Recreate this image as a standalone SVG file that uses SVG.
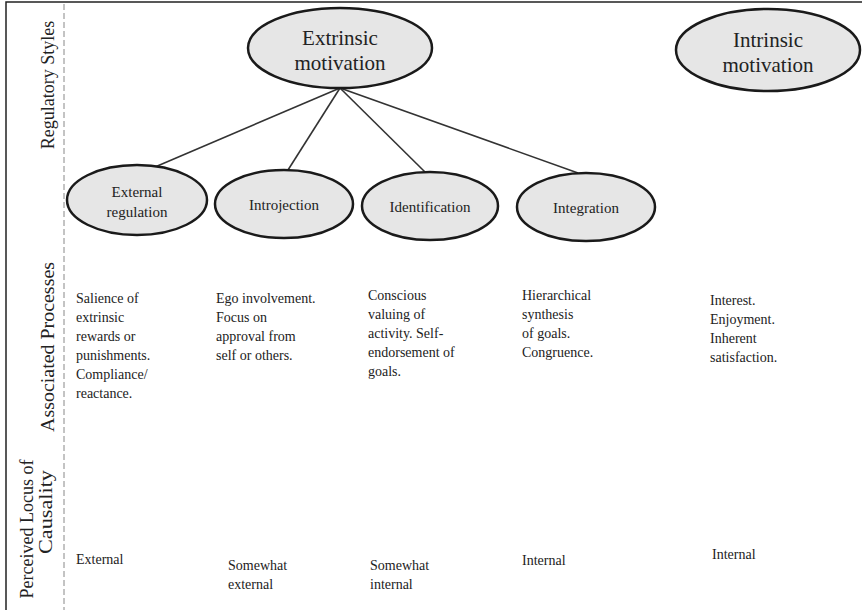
<svg xmlns="http://www.w3.org/2000/svg" width="865" height="610" viewBox="0 0 865 610">
<style>
.frame{stroke:#222;stroke-width:1.5;fill:none}
.dash{stroke:#888;stroke-width:1;stroke-dasharray:6 3;fill:none}
.node ellipse{fill:#e6e6e6;stroke:#1a1a1a;stroke-width:2.5}
.big{font-family:"Liberation Serif",serif;font-size:21px;fill:#222;text-anchor:middle}
.small{font-family:"Liberation Serif",serif;font-size:15px;fill:#222;text-anchor:middle}
.axis{font-family:"Liberation Serif",serif;font-size:18px;fill:#222;text-anchor:middle}
.body{font-family:"Liberation Serif",serif;font-size:14px;fill:#222}
.locus{font-family:"Liberation Serif",serif;font-size:14px;fill:#222}
#connectors line{stroke:#333;stroke-width:1.6}
</style>
<rect width="865" height="610" fill="#fff"/>
<path class="frame" d="M6 610 V2 H862"/>
<line class="dash" x1="64" y1="4" x2="64" y2="610"/>

<g id="axis-labels">
<text class="axis" transform="translate(54,85) rotate(-90)">Regulatory Styles</text>
<text class="axis" transform="translate(54,347) rotate(-90)" textLength="170" lengthAdjust="spacingAndGlyphs">Associated Processes</text>
<text class="axis" transform="translate(33,529) rotate(-90)">Perceived Locus of</text>
<text class="axis" transform="translate(52,512) rotate(-90)" textLength="84" lengthAdjust="spacingAndGlyphs">Causality</text>
</g>

<g id="connectors">
<line x1="340" y1="88" x2="155" y2="167"/>
<line x1="340" y1="88" x2="288" y2="170"/>
<line x1="340" y1="88" x2="425" y2="172"/>
<line x1="340" y1="88" x2="578" y2="173"/>
</g>

<g id="extrinsic" class="node">
<ellipse cx="340" cy="48" rx="92" ry="40"/>
<text class="big" x="340" y="45">Extrinsic</text>
<text class="big" x="340" y="70">motivation</text>
</g>
<g id="intrinsic" class="node">
<ellipse cx="768" cy="50" rx="92" ry="41"/>
<text class="big" x="768" y="47">Intrinsic</text>
<text class="big" x="768" y="72">motivation</text>
</g>
<g id="external-regulation" class="node">
<ellipse cx="137" cy="200" rx="70" ry="35"/>
<text class="small" x="137" y="197">External</text>
<text class="small" x="137" y="217">regulation</text>
</g>
<g id="introjection" class="node">
<ellipse cx="284" cy="204" rx="69" ry="34"/>
<text class="small" x="284" y="210">Introjection</text>
</g>
<g id="identification" class="node">
<ellipse cx="430" cy="206" rx="68" ry="34"/>
<text class="small" x="430" y="212">Identification</text>
</g>
<g id="integration" class="node">
<ellipse cx="586" cy="207" rx="69" ry="34"/>
<text class="small" x="586" y="213">Integration</text>
</g>

<g id="processes">
<text class="body" x="76" y="303">Salience of</text>
<text class="body" x="76" y="322">extrinsic</text>
<text class="body" x="76" y="341">rewards or</text>
<text class="body" x="76" y="360">punishments.</text>
<text class="body" x="76" y="379">Compliance/</text>
<text class="body" x="76" y="398">reactance.</text>

<text class="body" x="216" y="303">Ego involvement.</text>
<text class="body" x="216" y="322">Focus on</text>
<text class="body" x="216" y="341">approval from</text>
<text class="body" x="216" y="360">self or others.</text>

<text class="body" x="368" y="300">Conscious</text>
<text class="body" x="368" y="319">valuing of</text>
<text class="body" x="368" y="338">activity. Self-</text>
<text class="body" x="368" y="357">endorsement of</text>
<text class="body" x="368" y="376">goals.</text>

<text class="body" x="522" y="300">Hierarchical</text>
<text class="body" x="522" y="319">synthesis</text>
<text class="body" x="522" y="338">of goals.</text>
<text class="body" x="522" y="357">Congruence.</text>

<text class="body" x="710" y="305">Interest.</text>
<text class="body" x="710" y="324">Enjoyment.</text>
<text class="body" x="710" y="343">Inherent</text>
<text class="body" x="710" y="362">satisfaction.</text>
</g>

<g id="locus">
<text class="locus" x="76" y="564">External</text>
<text class="locus" x="228" y="570">Somewhat</text>
<text class="locus" x="228" y="589">external</text>
<text class="locus" x="370" y="570">Somewhat</text>
<text class="locus" x="370" y="589">internal</text>
<text class="locus" x="522" y="565">Internal</text>
<text class="locus" x="712" y="559">Internal</text>
</g>
</svg>
